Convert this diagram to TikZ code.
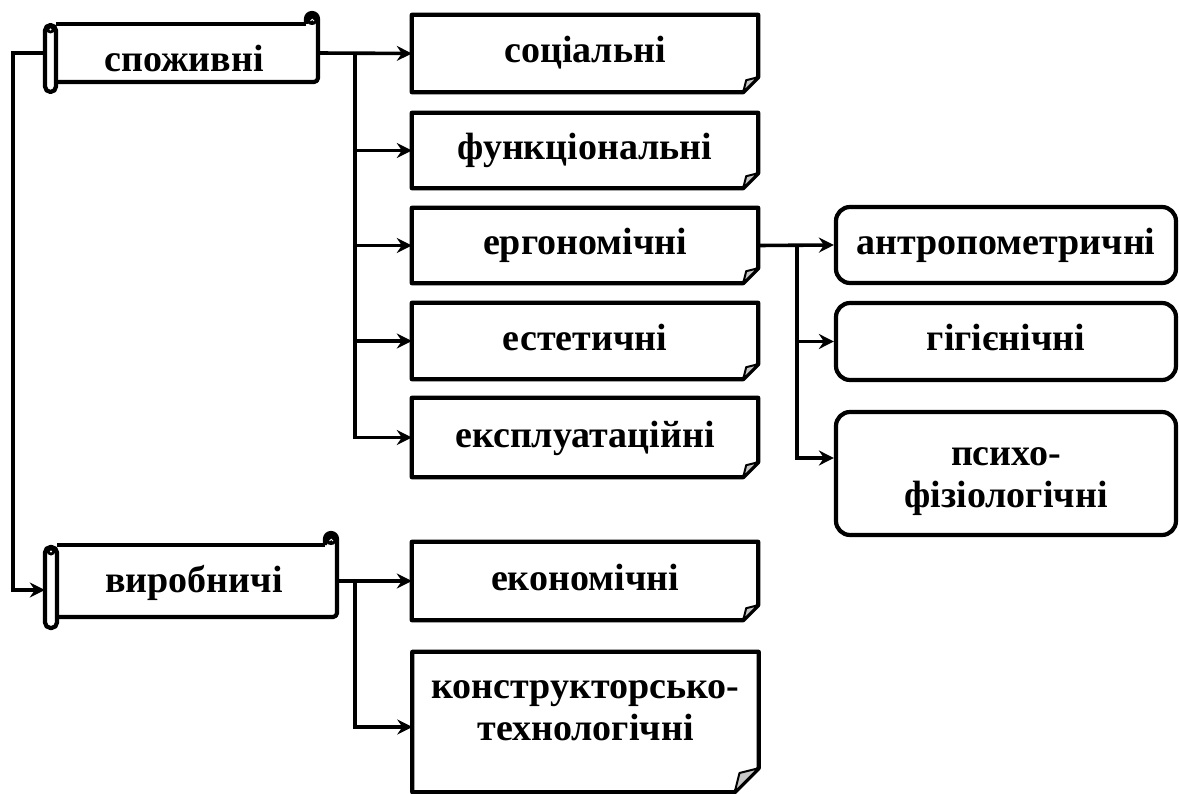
\documentclass[tikz,border=0pt]{standalone}
\usepackage{fontspec}
\setmainfont{Liberation Serif}
\usetikzlibrary{arrows.meta}
\tikzset{
  lbl/.style={font=\fontsize{38}{42}\selectfont\bfseries, inner sep=0pt},
  boxline/.style={line width=4.2pt, line join=round},
  conn/.style={line width=3.6pt},
  arr/.style={conn, -{Stealth[length=15pt,width=15pt,inset=5pt]}},
  holder/.style={lbl, draw=none, text height=19pt, text depth=0pt},
  rbox/.style={holder, draw, boxline, rounded corners=14pt},
  flap/.style={line width=2pt, fill=black!22, line join=round},
}
\newcommand{\docoutline}[2]{%
  \draw[boxline] (#1.north west) -- (#1.north east) -- ([yshift=#2]#1.south east)
     -- ([xshift=-#2]#1.south east) -- (#1.south west) -- cycle;
  \filldraw[flap] ([yshift=#2]#1.south east) -- ([xshift=-0.8*#2,yshift=0.8*#2]#1.south east)
     -- ([xshift=-#2]#1.south east) -- cycle;
}
\begin{document}
\begin{tikzpicture}[x=1pt,y=-1pt]
\useasboundingbox[fill=white] (0,0) rectangle (1179,794);

% ---------- scroll 1 ----------
\node[holder, minimum width=273pt, minimum height=58pt] (s1) at (181.5,53) {};
\node[lbl, anchor=base] (s1t) at (184,72) {споживні};
\draw[boxline] (56,24) -- (306,24);
\draw[boxline] (306,24) -- (306,19) arc[start angle=180,end angle=0,radius=6pt]
   -- (318,78) arc[start angle=0,end angle=-90,radius=4pt] -- (56,82);
\fill (312,19) circle[radius=6pt];
\draw[white, line width=0.9pt] (310.5,21) arc[start angle=180,end angle=0,radius=1.8pt];
\draw[boxline, rounded corners=5.5pt] (45,25) rectangle (56,92);
\fill (50.5,29) circle[radius=4.5pt];
\fill[white] (50.5,29.5) circle[radius=1.1pt];

% ---------- scroll 2 ----------
\node[holder, minimum width=292pt, minimum height=72pt] (s2) at (191,581) {};
\node[lbl, anchor=base] (s2t) at (194,592) {виробничі};
\draw[boxline] (57,545) -- (325,545);
\draw[boxline] (325,545) -- (325,539) arc[start angle=180,end angle=0,radius=6pt]
   -- (337,613) arc[start angle=0,end angle=-90,radius=4pt] -- (57,617);
\fill (331,539) circle[radius=6pt];
\draw[white, line width=0.9pt] (329.5,541) arc[start angle=180,end angle=0,radius=1.8pt];
\draw[boxline, rounded corners=5.5pt] (45,547) rectangle (57,628);
\fill (51,551) circle[radius=4.5pt];
\fill[white] (51,551.5) circle[radius=1.1pt];

% ---------- document boxes ----------
\node[holder, minimum width=346pt, minimum height=77pt] (soc) at (585,53.5) {соціальні};
\node[holder, minimum width=346pt, minimum height=75pt] (fun) at (585,150.5) {функціональні};
\node[holder, minimum width=346pt, minimum height=75pt] (erg) at (585,245.5) {ергономічні};
\node[holder, minimum width=346pt, minimum height=76pt] (est) at (585,341) {естетичні};
\node[holder, minimum width=346pt, minimum height=79pt] (expl) at (585,437.5) {експлуатаційні};
\node[holder, minimum width=346pt, minimum height=78pt] (eco) at (585,581) {економічні};
\node[holder, minimum width=346pt, minimum height=140pt] (kon) at (585.5,722) {};
\node[lbl, anchor=base] (kon1) at (585.5,698) {конструкторсько-};
\node[lbl, anchor=base] (kon2) at (585.5,740) {технологічні};
\docoutline{soc}{15pt}
\docoutline{fun}{15pt}
\docoutline{erg}{15pt}
\docoutline{est}{15pt}
\docoutline{expl}{15pt}
\docoutline{eco}{15pt}
\docoutline{kon}{24pt}

% ---------- rounded boxes ----------
\node[rbox, minimum width=340pt, minimum height=76pt] (ant) at (1006,245) {антропометричні};
\node[rbox, minimum width=340pt, minimum height=77pt] (gig) at (1006,341.5) {гігієнічні};
\node[rbox, minimum width=340pt, minimum height=123pt] (psy) at (1006,473.5) {};
\node[lbl, anchor=base] (psy1) at (1006,465) {психо-};
\node[lbl, anchor=base] (psy2) at (1006,507) {фізіологічні};

% ---------- connectors ----------
\coordinate (j1) at (355,53);
\coordinate (j2) at (355,581);
\coordinate (j3) at (797,245.5);
\coordinate (lc) at (13,53);

\draw[arr] (s1.east) -- (soc.west);
\draw[arr] (j1) |- (expl.west);
\draw[arr] (j1 |- fun.west) -- (fun.west);
\draw[arr] (j1 |- erg.west) -- (erg.west);
\draw[arr] (j1 |- est.west) -- (est.west);

\draw[arr] (s1.west) -- (lc) |- ([yshift=-9pt]s2.west);

\draw[arr] (s2.east) -- (eco.west);
\draw[arr] (j2) |- ([yshift=-5pt]kon.west);

\draw[arr] (erg.east) -- (ant.west);
\draw[arr] (j3) |- ([yshift=15.5pt]psy.west);
\draw[arr] (j3 |- gig.west) -- (gig.west);
\end{tikzpicture}
\end{document}
